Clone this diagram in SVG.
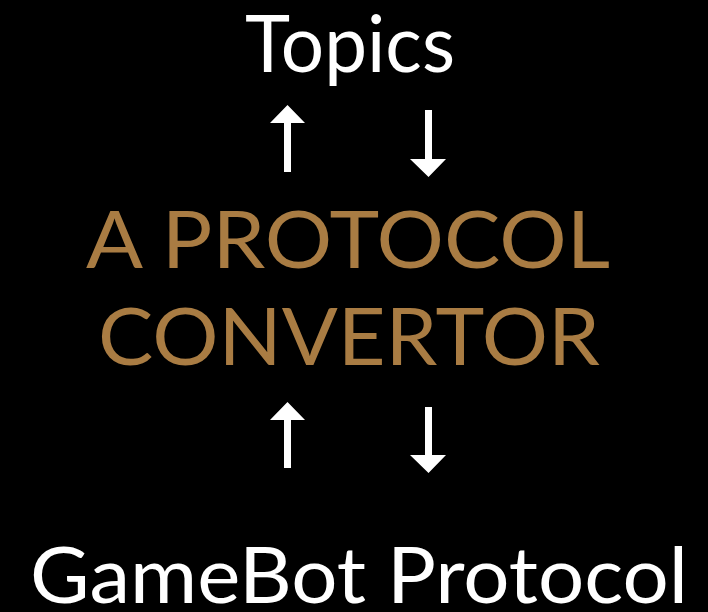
<svg xmlns="http://www.w3.org/2000/svg" width="708" height="612" viewBox="0 0 708 612">
<style>
.t{font-family:Lato,"Open Sans","DejaVu Sans",sans-serif;text-anchor:middle;}
.w{fill:#ffffff;}
.g{fill:#A97C43;}
.a{fill:#ffffff;}
</style>
<rect width="708" height="612" fill="#000000"/>
<g id="topics"><text class="t w" x="350" y="72" font-size="80" textLength="210" lengthAdjust="spacingAndGlyphs">Topics</text></g>
<g id="convertor">
<text class="t g" x="348" y="268" font-size="80" textLength="524" lengthAdjust="spacingAndGlyphs">A PROTOCOL</text>
<text class="t g" x="349" y="365" font-size="80" textLength="502" lengthAdjust="spacingAndGlyphs">CONVERTOR</text>
</g>
<g id="gamebot"><text class="t w" x="359" y="603" font-size="77" textLength="658" lengthAdjust="spacingAndGlyphs">GameBot Protocol</text></g>
<g id="connectors">
<polygon class="a" points="287.5,105 305,123 291,123 291,172 284,172 284,123 270,123"/>
<polygon class="a" points="428.5,177 446,159 432,159 432,110 425,110 425,159 410,159"/>
<polygon class="a" points="287.5,402 305,420 291,420 291,468 284,468 284,420 270,420"/>
<polygon class="a" points="428.5,473 446,455 432,455 432,407 425,407 425,455 410,455"/>
</g>
</svg>
